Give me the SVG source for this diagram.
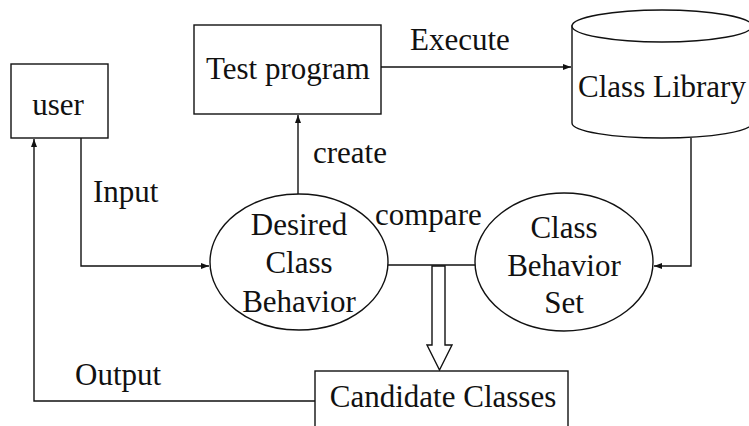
<svg xmlns="http://www.w3.org/2000/svg" width="749" height="426" viewBox="0 0 749 426">
  <defs>
    <marker id="arr" markerWidth="9" markerHeight="7" refX="8" refY="3.5" orient="auto" markerUnits="userSpaceOnUse">
      <path d="M0,0.5 L8,3.5 L0,6.5 z" fill="#111"/>
    </marker>
  </defs>
  <style>
    .shape { fill: #fff; stroke: #111; stroke-width: 1.4; }
    .line { fill: none; stroke: #111; stroke-width: 1.4; }
    text { font-family: "Liberation Serif", "Times New Roman", serif; font-size: 31px; fill: #111; }
    .c { text-anchor: middle; }
  </style>
  <rect width="749" height="426" fill="#fff"/>

  <g id="connectors">
    <path class="line" d="M381,67 H571" marker-end="url(#arr)"/>
    <path class="line" d="M298,194 V115" marker-end="url(#arr)"/>
    <path class="line" d="M81,138 V266 H209" marker-end="url(#arr)"/>
    <path class="line" d="M315,401 H34 V139" marker-end="url(#arr)"/>
    <path class="line" d="M691,138 V266 H654" marker-end="url(#arr)"/>
    <path class="line" d="M388,265 H475"/>
    <path class="shape" d="M432,266 V345 H427 L439.5,370 L452,345 H445 V266 Z"/>
  </g>

  <g id="label-execute"><text x="410" y="50">Execute</text></g>
  <g id="label-create"><text x="313" y="163">create</text></g>
  <g id="label-input"><text x="93" y="202">Input</text></g>
  <g id="label-output"><text x="75" y="385">Output</text></g>
  <g id="label-compare"><text x="375" y="225">compare</text></g>

  <g id="user">
    <rect class="shape" x="11" y="64" width="97" height="74"/>
    <text class="c" x="58" y="115">user</text>
  </g>

  <g id="test-program">
    <rect class="shape" x="194" y="25" width="187" height="89"/>
    <text class="c" x="288" y="79">Test program</text>
  </g>

  <g id="class-library">
    <path class="shape" d="M572,26 V123 A90,15 0 0 0 752,123 V26 Z"/>
    <ellipse class="shape" cx="662" cy="26" rx="90" ry="16"/>
    <text class="c" x="662" y="97">Class Library</text>
  </g>

  <g id="desired-class-behavior">
    <ellipse class="shape" cx="299" cy="262" rx="89" ry="68"/>
    <text class="c" x="299" y="235">Desired</text>
    <text class="c" x="299" y="273">Class</text>
    <text class="c" x="299" y="312">Behavior</text>
  </g>

  <g id="class-behavior-set">
    <ellipse class="shape" cx="564" cy="262" rx="89" ry="69"/>
    <text class="c" x="564" y="238">Class</text>
    <text class="c" x="564" y="276">Behavior</text>
    <text class="c" x="564" y="313">Set</text>
  </g>

  <g id="candidate-classes">
    <rect class="shape" x="315" y="371" width="253" height="70"/>
    <text class="c" x="443" y="407">Candidate Classes</text>
  </g>
</svg>
